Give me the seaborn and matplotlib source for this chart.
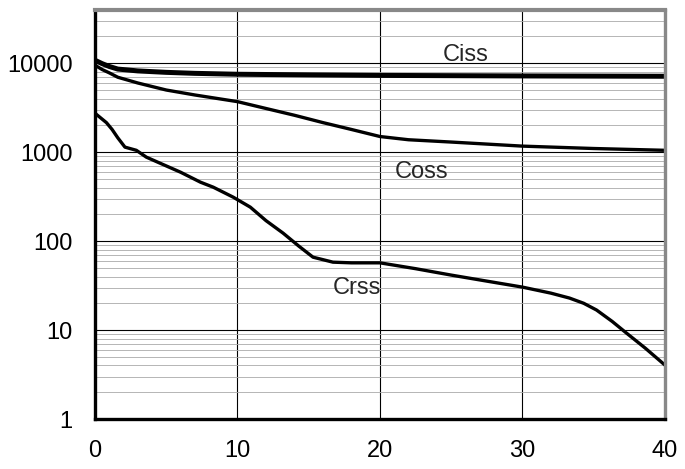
import numpy as np
import pandas as pd
import matplotlib
matplotlib.use("Agg")
import matplotlib.pyplot as plt
from matplotlib.ticker import FixedLocator, NullFormatter, LogLocator
import seaborn as sns

# ---------------- DATA ---------------- #
ciss_v = [0, 0.5, 1, 1.6, 3, 5, 7, 10, 15, 20, 25, 30, 35, 40]
ciss_c = [10800, 9900, 9200, 8600, 8200, 7900, 7700, 7520, 7400, 7300, 7250, 7200, 7170, 7140]

coss_v = [0, 0.5, 1, 1.6, 3, 5, 7, 10, 12, 14, 16, 18, 20, 22, 25, 30, 35, 40]
coss_c = [9500, 8500, 7800, 6960, 6000, 5000, 4400, 3700, 3100, 2600, 2150, 1800, 1500,
          1380, 1300, 1170, 1100, 1050]

crss_v = [0, 0.8, 1.2, 1.6, 2.1, 2.9, 3.6, 4.5, 6, 7.4, 8.3, 9.7, 10.9, 12, 13.2, 14.3,
          15.3, 16.7, 18, 20, 22.5, 25, 27.5, 30, 32, 33.3, 34.3, 35.2, 36.3, 37.3, 38.6, 40]
crss_c = [2740, 2150, 1800, 1450, 1140, 1050, 880, 760, 596, 460, 404, 312, 241, 170,
          123, 88, 66, 58, 57, 57, 49, 41.5, 35.5, 30.4, 26, 22.9, 20, 16.8, 12.5, 9.25, 6.3, 4.04]

x_ticks = [0, 10, 20, 30, 40]
y_ticks = [1, 10, 100, 1000, 10000]
y_labels = ["1", "10", "100", "1000", "10000"]

# ---------------- STYLE ---------------- #
sns.set_style("white")
plt.rcParams["font.family"] = ["Liberation Sans", "DejaVu Sans"]

fig = plt.figure(figsize=(6.85, 4.69), dpi=100)
ax = fig.add_axes([0.1387, 0.1066, 0.832, 0.8721])

# curves
sns.lineplot(x=ciss_v, y=ciss_c, ax=ax, color="black", linewidth=3.6, sort=False, estimator=None)
sns.lineplot(x=coss_v, y=coss_c, ax=ax, color="black", linewidth=2.4, sort=False, estimator=None)
sns.lineplot(x=crss_v, y=crss_c, ax=ax, color="black", linewidth=2.4, sort=False, estimator=None)

ax.set_yscale("log")
ax.set_xlim(0, 40)
ax.set_ylim(1, 39700)

# grid
ax.yaxis.set_major_locator(FixedLocator(y_ticks))
ax.set_yticklabels(y_labels)
ax.yaxis.set_minor_locator(LogLocator(base=10, subs=np.arange(2, 10)))
ax.yaxis.set_minor_formatter(NullFormatter())
ax.set_xticks(x_ticks)
ax.grid(which="major", axis="both", color="black", linewidth=0.8, zorder=0)
ax.grid(which="minor", axis="y", color="#aaaaaa", linewidth=0.6, zorder=0)
ax.set_axisbelow(True)

ax.tick_params(which="both", length=0, labelsize=17, colors="black")
ax.tick_params(axis="y", pad=16)
ax.tick_params(axis="x", pad=15)

for side in ["left", "bottom"]:
    ax.spines[side].set_color("black")
    ax.spines[side].set_linewidth(2.4)
ax.spines["top"].set_color("#888888")
ax.spines["top"].set_linewidth(3)
ax.spines["right"].set_color("#888888")
ax.spines["right"].set_linewidth(2.4)

ax.set_xlabel("")
ax.set_ylabel("")

# labels
ax.text(26.0, 12300, "Ciss", fontsize=17, ha="center", va="center")
ax.text(22.9, 600, "Coss", fontsize=17, ha="center", va="center")
ax.text(18.4, 29.6, "Crss", fontsize=17, ha="center", va="center")

plt.savefig("out.png", dpi=100)
